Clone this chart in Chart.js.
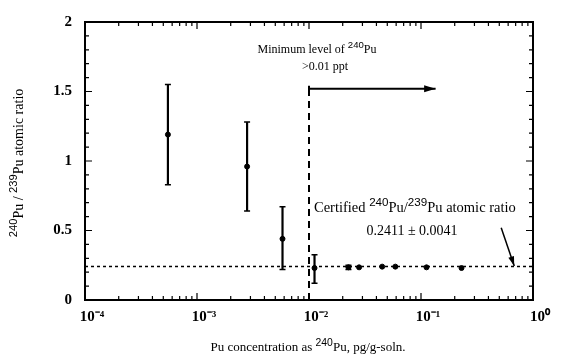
<!DOCTYPE html>
<html>
<head>
<meta charset="utf-8">
<script src="https://cdn.jsdelivr.net/npm/chart.js@4/dist/chart.umd.min.js"></script>
<style>
  html, body { margin: 0; padding: 0; background: #fff; }
</style>
</head>
<body>
<canvas id="ratioChart" width="562" height="360"></canvas>
<script>
// 240Pu/239Pu ratio measured at several Pu concentrations (pg/g-soln)
const concentration = [0.00055, 0.0028, 0.0058, 0.0112, 0.0225, 0.028, 0.045, 0.059, 0.112, 0.23];
const ratio = [1.19, 0.96, 0.44, 0.23, 0.235, 0.235, 0.24, 0.24, 0.235, 0.23];
// error bar ends (null = no visible bar)
const errLow = [0.83, 0.64, 0.22, 0.12, 0.22, null, null, null, null, null];
const errHigh = [1.55, 1.28, 0.67, 0.325, 0.25, null, null, null, null, null];

const xTicks = [1e-4, 1e-3, 1e-2, 1e-1, 1];
const xTickLabels = ['10⁻⁴', '10⁻³', '10⁻²', '10⁻¹', '10⁰'];
const yTickLabels = ['0', '0.5', '1', '1.5', '2'];

const certified = 0.2411;
const minLevel = 0.01;

const serif = "'Liberation Serif', 'Times New Roman', serif";
const sans = "'Liberation Sans', Arial, sans-serif";

// text with superscripts, parts = [[text, isSup], ...]
function drawRich(ctx, parts, x, y, size, align, weight) {
    const w = weight ? weight + ' ' : '';
    const fonts = parts.map(p => p[1] ? w + (size * 0.8) + 'px ' + sans : w + size + 'px ' + serif);
    const widths = parts.map((p, i) => { ctx.font = fonts[i]; return ctx.measureText(p[0]).width; });
    const total = widths.reduce((a, b) => a + b, 0);
    let cx = align === 'center' ? x - total / 2 : x;
    ctx.textAlign = 'left';
    ctx.textBaseline = 'alphabetic';
    parts.forEach((p, i) => {
        ctx.font = fonts[i];
        ctx.fillText(p[0], cx, p[1] ? y - size * 0.4 : y);
        cx += widths[i];
    });
}

function arrow(ctx, x1, y1, x2, y2, head) {
    ctx.beginPath();
    ctx.moveTo(x1, y1);
    ctx.lineTo(x2, y2);
    ctx.stroke();
    const a = Math.atan2(y2 - y1, x2 - x1);
    ctx.beginPath();
    ctx.moveTo(x2, y2);
    ctx.lineTo(x2 - head * Math.cos(a - 0.3), y2 - head * Math.sin(a - 0.3));
    ctx.lineTo(x2 - head * Math.cos(a + 0.3), y2 - head * Math.sin(a + 0.3));
    ctx.closePath();
    ctx.fill();
}

const extras = {
    id: 'extras',
    afterDatasetsDraw(chart) {
        const ctx = chart.ctx;
        const xs = chart.scales.x, ys = chart.scales.y;
        const area = chart.chartArea;
        ctx.save();
        ctx.strokeStyle = '#000';
        ctx.fillStyle = '#000';

        // error bars
        concentration.forEach((c, i) => {
            if (errLow[i] == null) return;
            const px = xs.getPixelForValue(c);
            const lo = ys.getPixelForValue(errLow[i]);
            const hi = ys.getPixelForValue(errHigh[i]);
            ctx.lineWidth = 2.2;
            ctx.beginPath();
            ctx.moveTo(px, lo); ctx.lineTo(px, hi);
            ctx.stroke();
            ctx.lineWidth = 1.5;
            ctx.beginPath();
            ctx.moveTo(px - 3, lo); ctx.lineTo(px + 3, lo);
            ctx.moveTo(px - 3, hi); ctx.lineTo(px + 3, hi);
            ctx.stroke();
        });

        // frame
        ctx.lineWidth = 2;
        ctx.strokeRect(area.left, area.top, area.right - area.left, area.bottom - area.top);

        // inward ticks on all four sides
        ctx.lineWidth = 1.2;
        ctx.beginPath();
        for (let e = -4; e < 0; e++) {
            for (let m = 1; m <= 9; m++) {
                const px = xs.getPixelForValue(m * Math.pow(10, e));
                const len = m === 1 ? 7 : 4;
                ctx.moveTo(px, area.bottom); ctx.lineTo(px, area.bottom - len);
                ctx.moveTo(px, area.top); ctx.lineTo(px, area.top + len);
            }
        }
        for (let k = 0; k <= 20; k++) {
            const py = ys.getPixelForValue(k / 10);
            const len = k % 5 === 0 ? 7 : 4;
            ctx.moveTo(area.left, py); ctx.lineTo(area.left + len, py);
            ctx.moveTo(area.right, py); ctx.lineTo(area.right - len, py);
        }
        ctx.stroke();

        // minimum level arrow
        const mx = xs.getPixelForValue(minLevel);
        const my = ys.getPixelForValue(1.52);
        ctx.lineWidth = 2;
        arrow(ctx, mx, my, xs.getPixelForValue(0.135), my, 12);
        ctx.beginPath();
        ctx.moveTo(mx, my - 3); ctx.lineTo(mx, my + 5);
        ctx.stroke();

        // arrow to certified line
        ctx.lineWidth = 1.5;
        arrow(ctx, xs.getPixelForValue(0.52), ys.getPixelForValue(0.52),
              xs.getPixelForValue(0.68), ys.getPixelForValue(0.245), 10);

        // annotations
        ctx.fillStyle = '#000';
        drawRich(ctx, [['Minimum level of ', false], ['240', true], ['Pu', false]], 317, 53, 12, 'center');
        drawRich(ctx, [['>0.01 ppt', false]], 325, 70, 12, 'center');
        drawRich(ctx, [['Certified ', false], ['240', true], ['Pu/', false], ['239', true], ['Pu atomic ratio', false]], 314, 212, 14.5, 'left');
        drawRich(ctx, [['0.2411 ± 0.0041', false]], 412, 235, 14, 'center');

        // axis titles
        drawRich(ctx, [['Pu concentration as ', false], ['240', true], ['Pu, pg/g-soln.', false]], 308, 351, 13, 'center');
        ctx.save();
        ctx.translate(23, 163);
        ctx.rotate(-Math.PI / 2);
        drawRich(ctx, [['240', true], ['Pu / ', false], ['239', true], ['Pu atomic ratio', false]], 0, 0, 14, 'center');
        ctx.restore();

        ctx.restore();
    }
};

const tickFont = { family: serif, size: 15, weight: 'bold' };

new Chart(document.getElementById('ratioChart'), {
    type: 'scatter',
    data: {
        datasets: [
            {
                label: 'Measured',
                data: concentration.map((c, i) => ({ x: c, y: ratio[i] })),
                backgroundColor: '#000',
                borderColor: '#000',
                pointRadius: 2.5,
                order: 0
            },
            {
                label: 'Certified',
                type: 'line',
                data: [{ x: 1e-4, y: certified }, { x: 1, y: certified }],
                borderColor: '#000',
                borderWidth: 1.5,
                borderDash: [3, 3],
                pointRadius: 0,
                order: 1
            },
            {
                label: 'Minimum level',
                type: 'line',
                data: [{ x: minLevel, y: 0 }, { x: minLevel, y: 1.52 }],
                borderColor: '#000',
                borderWidth: 2,
                borderDash: [7, 5],
                pointRadius: 0,
                order: 1
            }
        ]
    },
    options: {
        responsive: false,
        animation: false,
        layout: { padding: { left: 45, right: 29, top: 17, bottom: 20 } },
        plugins: { legend: { display: false }, tooltip: { enabled: false } },
        scales: {
            x: {
                type: 'logarithmic',
                min: 1e-4,
                max: 1,
                grid: { display: false, drawTicks: false },
                border: { display: false },
                afterBuildTicks: scale => { scale.ticks = xTicks.map(v => ({ value: v })); },
                afterFit: scale => { scale.height = 40; },
                ticks: {
                    color: '#000',
                    font: tickFont,
                    padding: 8,
                    labelOffset: 7,
                    maxRotation: 0,
                    callback: (v, i) => xTickLabels[i]
                }
            },
            y: {
                min: 0,
                max: 2,
                grid: { display: false, drawTicks: false },
                border: { display: false },
                afterFit: scale => { scale.width = 40; },
                ticks: {
                    color: '#000',
                    font: tickFont,
                    padding: 13,
                    stepSize: 0.5,
                    callback: (v, i) => yTickLabels[i]
                }
            }
        }
    },
    plugins: [extras]
});
</script>
</body>
</html>
